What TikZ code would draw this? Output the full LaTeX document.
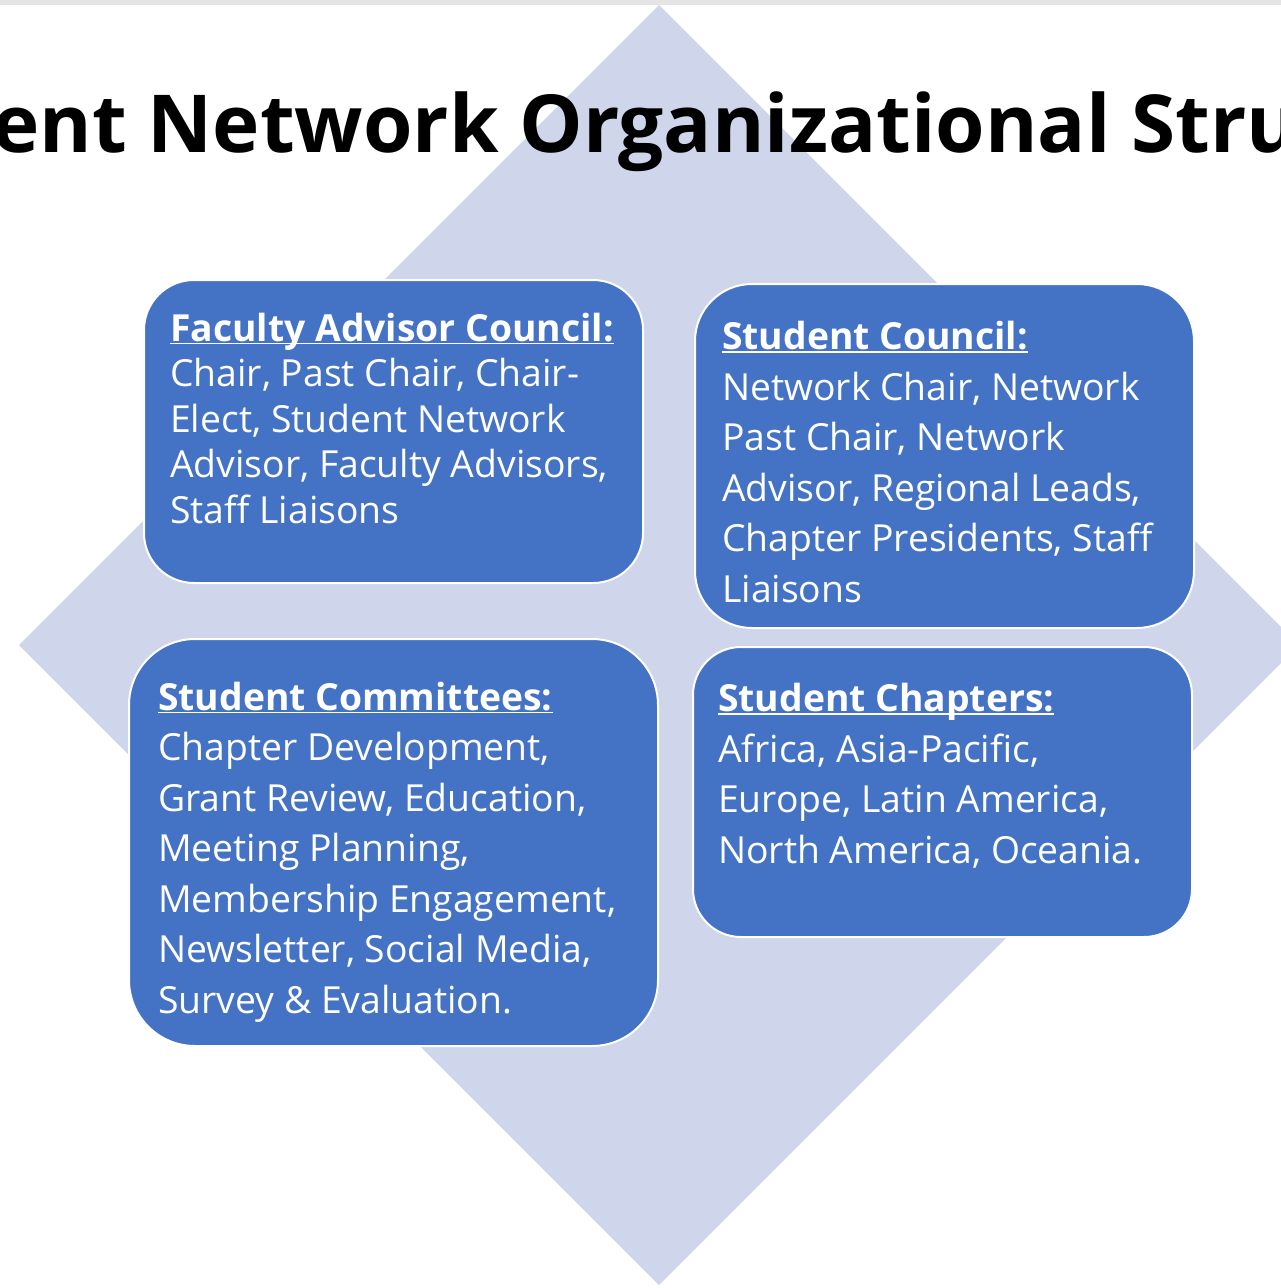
\documentclass[tikz,border=0pt]{standalone}
\usepackage{fontspec}
\setmainfont{Open Sans}
\definecolor{diamfill}{HTML}{CFD5EA}
\definecolor{grpblue}{HTML}{4472C4}
\definecolor{topbar}{HTML}{E4E4E4}
% bold heading with a thin underline close to the baseline
\newcommand\grphead[1]{\setbox0\hbox{\bfseries #1}\rlap{\rule[-3.2pt]{\wd0}{1.7pt}}\box0}

\tikzset{
  grp/.style={rectangle, draw=white, line width=2pt, fill=grpblue, anchor=north west, inner sep=0pt},
  grptext/.style={anchor=base west, align=left, text=white, inner sep=0pt, font=\fontsize{37.3}{50.5}\selectfont},
}

\begin{document}
\begin{tikzpicture}[x=1pt, y=-1pt]
\useasboundingbox (0,0) rectangle (1281,1288);

\fill[topbar] (0,0) rectangle (1281,5);
\fill[diamfill] (659,5) -- (1299,645) -- (659,1285) -- (19,645) -- cycle;

\node[anchor=base, font=\fontsize{80}{96}\selectfont\bfseries] (title) at (660,152) {Student Network Organizational Structure};

\node[grp, minimum width=499pt, minimum height=303pt, rounded corners=50pt] (fac) at (143,279) {};
\node[grp, minimum width=499pt, minimum height=344pt, rounded corners=57pt] (council) at (694,283) {};
\node[grp, minimum width=529pt, minimum height=407pt, rounded corners=66pt] (comm) at (128,638) {};
\node[grp, minimum width=499pt, minimum height=290pt, rounded corners=48pt] (chap) at (692,646) {};

% base anchor = baseline of the last line
\node[grptext, font=\fontsize{37.3}{45.5}\selectfont] (factxt) at (170,523) {\grphead{Faculty Advisor Council:}\\
  Chair, Past Chair, Chair-\\
  Elect, Student Network\\
  Advisor, Faculty Advisors,\\
  Staff Liaisons};

\node[grptext] (counciltxt) at (722,602) {\grphead{Student Council:}\\
  Network Chair, Network\\
  Past Chair, Network\\
  Advisor, Regional Leads,\\
  Chapter Presidents, Staff\\
  Liaisons};

\node[grptext] (commtxt) at (158,1013) {\grphead{Student Committees:}\\
  Chapter Development,\\
  Grant Review, Education,\\
  Meeting Planning,\\
  Membership Engagement,\\
  Newsletter, Social Media,\\
  Survey \& Evaluation.};

\node[grptext] (chaptxt) at (718,863) {\grphead{Student Chapters:}\\
  Africa, Asia-Pacific,\\
  Europe, Latin America,\\
  North America, Oceania.};

\end{tikzpicture}
\end{document}
